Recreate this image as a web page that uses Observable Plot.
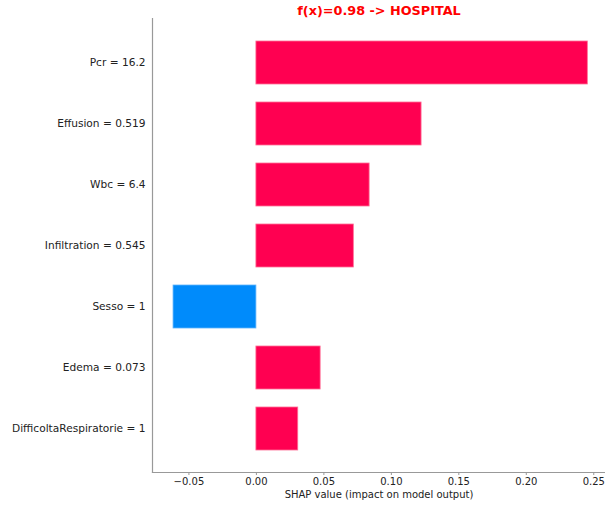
<!DOCTYPE html>
<html>
<head>
<meta charset="utf-8">
<script src="https://cdn.jsdelivr.net/npm/d3@7"></script>
<script src="https://cdn.jsdelivr.net/npm/@observablehq/plot@0.6"></script>
<style>
  html, body { margin: 0; padding: 0; background: #fff; }
  svg { display: block; }
</style>
</head>
<body>
<div id="chart"></div>
<script>
const features = ["Pcr = 16.2", "Effusion = 0.519", "Wbc = 6.4", "Infiltration = 0.545", "Sesso = 1", "Edema = 0.073", "DifficoltaRespiratorie = 1"];
const shapValues = [0.2456, 0.1224, 0.0839, 0.0722, -0.0614, 0.0476, 0.0310];
const xTicks = [-0.05, 0, 0.05, 0.10, 0.15, 0.20, 0.25];
const title = "f(x)=0.98 -> HOSPITAL";
const xLabel = "SHAP value (impact on model output)";

const data = features.map((f, i) => ({feature: f, value: shapValues[i]}));
const fontFamily = "DejaVu Sans";

const chart = Plot.plot({
  width: 605,
  height: 508,
  marginLeft: 152,
  marginRight: 0,
  marginTop: 18,
  marginBottom: 36,
  style: {fontFamily, fontSize: "10.4px", color: "#222", background: "#fff"},
  x: {domain: [-0.077, 0.2587]},
  y: {domain: features, paddingInner: 0.3, paddingOuter: 0.15, insetTop: 11.5, insetBottom: 11},
  marks: [
    Plot.barX(data, {
      x: "value", y: "feature",
      fill: d => d.value >= 0 ? "#ff0051" : "#008bfb",
      stroke: d => d.value >= 0 ? "#ff6f96" : "#5fb4fc",
      strokeWidth: 0.8
    }),
    Plot.frame({anchor: "left", stroke: "#999", strokeWidth: 1.2}),
    Plot.frame({anchor: "bottom", stroke: "#999", strokeWidth: 1.2}),
    Plot.axisY({tickSize: 0, tickPadding: 7, label: null, fill: "#222", fontSize: 10.6}),
    Plot.axisX({
      ticks: xTicks, tickSize: 3, stroke: "#999", tickPadding: 2, label: null,
      fill: "#222", fontSize: 10,
      tickFormat: d => d3.format(".2f")(d).replace("-", "\u2212")
    }),
    Plot.text([xLabel], {frameAnchor: "bottom", lineAnchor: "middle", dy: 22, fill: "#222", fontSize: 10}),
    Plot.text([title], {frameAnchor: "top", lineAnchor: "middle", dy: -8, fill: "#ff0000", fontWeight: "bold", fontSize: 12.8})
  ]
});
document.getElementById("chart").appendChild(chart);
</script>
</body>
</html>
